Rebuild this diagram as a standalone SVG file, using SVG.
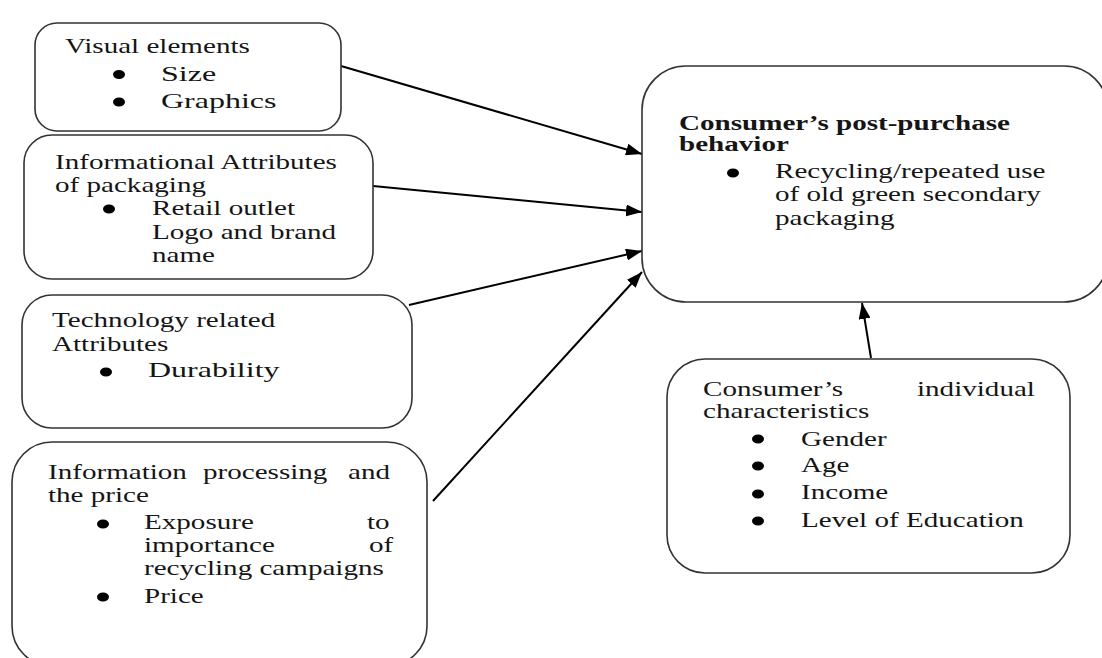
<svg xmlns="http://www.w3.org/2000/svg" width="1102" height="658" viewBox="0 0 1102 658">
<style>
.box{fill:#fff;stroke:#333;stroke-width:1.6}
.t{font-family:"Liberation Serif","Times New Roman",serif;font-size:20px;fill:#151515}
.b{font-weight:bold}
.big{font-size:22px}
.bul{fill:#000}
.conn{stroke:#000;stroke-width:2;fill:none;marker-end:url(#ah)}
</style>
<defs>
<marker id="ah" markerWidth="16" markerHeight="12" viewBox="0 0 16 12" refX="16" refY="6" orient="auto" markerUnits="userSpaceOnUse">
<path d="M0,0 L16,6 L0,12 Z" fill="#000"/>
</marker>
</defs>
<rect width="1102" height="658" fill="#fff"/>

<g id="connectors">
<line class="conn" x1="341" y1="66" x2="642" y2="154"/>
<line class="conn" x1="373" y1="186" x2="642" y2="212"/>
<line class="conn" x1="409" y1="305" x2="642" y2="251"/>
<line class="conn" x1="433" y1="501" x2="642" y2="272"/>
<line class="conn" x1="871" y1="358" x2="862" y2="303"/>
</g>

<g id="visual-elements">
<rect class="box" x="35" y="23" width="306" height="108" rx="22"/>
<text class="t" transform="translate(65 53) scale(1.455 1)">Visual elements</text>
<ellipse class="bul" cx="119" cy="74.5" rx="6" ry="4.5"/>
<text class="t big" transform="translate(161 81) scale(1.455 1)">Size</text>
<ellipse class="bul" cx="119" cy="102" rx="6" ry="4.5"/>
<text class="t big" transform="translate(161 108) scale(1.455 1)">Graphics</text>
</g>

<g id="informational-attributes">
<rect class="box" x="24" y="135" width="349" height="144" rx="28"/>
<text class="t" transform="translate(55 169) scale(1.455 1)">Informational Attributes</text>
<text class="t" transform="translate(55 192) scale(1.455 1)">of packaging</text>
<ellipse class="bul" cx="109" cy="209" rx="6" ry="4.5"/>
<text class="t" transform="translate(152 215) scale(1.455 1)">Retail outlet</text>
<text class="t" transform="translate(152 239) scale(1.455 1)">Logo and brand</text>
<text class="t" transform="translate(152 262) scale(1.455 1)">name</text>
</g>

<g id="technology-attributes">
<rect class="box" x="22" y="295" width="390" height="133" rx="30"/>
<text class="t" transform="translate(52 327) scale(1.455 1)">Technology related</text>
<text class="t" transform="translate(52 351) scale(1.455 1)">Attributes</text>
<ellipse class="bul" cx="106" cy="372" rx="6" ry="4.5"/>
<text class="t big" transform="translate(148 377) scale(1.455 1)">Durability</text>
</g>

<g id="information-processing">
<rect class="box" x="12" y="442" width="415" height="224" rx="40"/>
<text class="t" transform="translate(48 479) scale(1.455 1)">Information</text>
<text class="t" transform="translate(203 479) scale(1.455 1)">processing</text>
<text class="t" transform="translate(348 479) scale(1.455 1)">and</text>
<text class="t" transform="translate(48 502) scale(1.455 1)">the price</text>
<ellipse class="bul" cx="103" cy="524" rx="6" ry="4.5"/>
<text class="t" transform="translate(144 529) scale(1.455 1)">Exposure</text>
<text class="t" transform="translate(367 529) scale(1.455 1)">to</text>
<text class="t" transform="translate(144 552) scale(1.455 1)">importance</text>
<text class="t" transform="translate(369 552) scale(1.455 1)">of</text>
<text class="t" transform="translate(144 575) scale(1.455 1)">recycling campaigns</text>
<ellipse class="bul" cx="103" cy="597" rx="6" ry="4.5"/>
<text class="t" transform="translate(144 603) scale(1.455 1)">Price</text>
</g>

<g id="post-purchase-behavior">
<rect class="box" x="642" y="66" width="466" height="236" rx="44"/>
<text class="t b" transform="translate(679 130) scale(1.455 1)">Consumer’s post-purchase</text>
<text class="t b" transform="translate(679 151) scale(1.455 1)">behavior</text>
<ellipse class="bul" cx="733" cy="173" rx="6" ry="4.5"/>
<text class="t" transform="translate(775 178) scale(1.455 1)">Recycling/repeated use</text>
<text class="t" transform="translate(775 201) scale(1.455 1)">of old green secondary</text>
<text class="t" transform="translate(775 225) scale(1.455 1)">packaging</text>
</g>

<g id="individual-characteristics">
<rect class="box" x="667" y="359" width="403" height="214" rx="38"/>
<text class="t" transform="translate(703 396) scale(1.455 1)">Consumer’s</text>
<text class="t" transform="translate(917 396) scale(1.455 1)">individual</text>
<text class="t" transform="translate(703 418) scale(1.455 1)">characteristics</text>
<ellipse class="bul" cx="758" cy="439" rx="6" ry="4.5"/>
<text class="t" transform="translate(801 446) scale(1.455 1)">Gender</text>
<ellipse class="bul" cx="758" cy="466" rx="6" ry="4.5"/>
<text class="t" transform="translate(801 472) scale(1.455 1)">Age</text>
<ellipse class="bul" cx="758" cy="494" rx="6" ry="4.5"/>
<text class="t" transform="translate(801 499) scale(1.455 1)">Income</text>
<ellipse class="bul" cx="758" cy="521" rx="6" ry="4.5"/>
<text class="t" transform="translate(801 527) scale(1.455 1)">Level of Education</text>
</g>
</svg>
